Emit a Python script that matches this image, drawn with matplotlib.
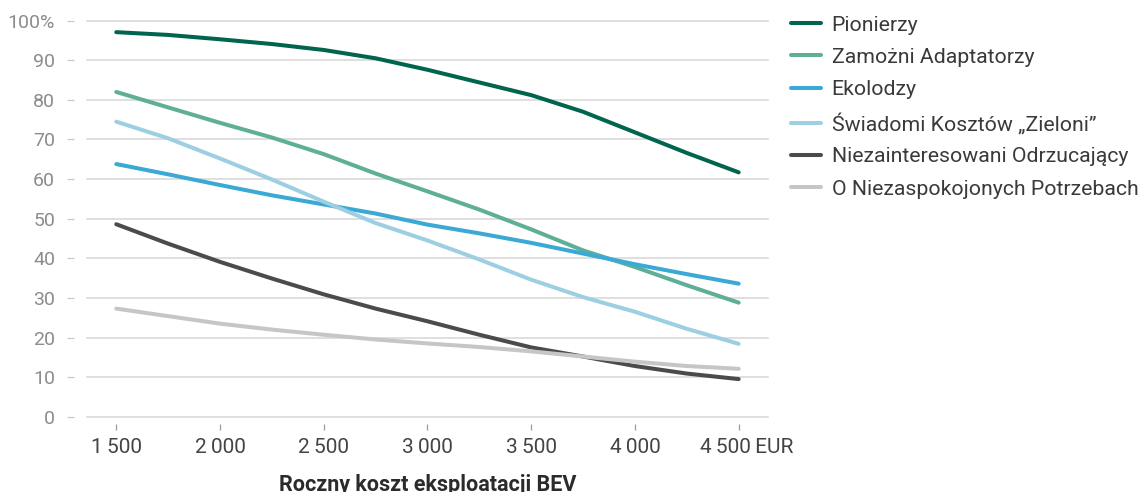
import matplotlib
matplotlib.use('Agg')
import matplotlib.pyplot as plt
from matplotlib.ticker import FixedLocator
from matplotlib.transforms import ScaledTranslation

plt.rcParams['font.family'] = ['Roboto', 'DejaVu Sans']

# roczny koszt eksploatacji BEV (EUR)
koszt = [1500, 1750, 2000, 2250, 2500, 2750, 3000, 3250, 3500, 3750, 4000, 4250, 4500]

pionierzy = [97.1, 96.4, 95.3, 94.1, 92.6, 90.5, 87.6, 84.4, 81.2, 77.0, 71.8, 66.6, 61.7]
zamozni = [82.0, 78.1, 74.2, 70.5, 66.3, 61.4, 56.9, 52.3, 47.3, 42.0, 37.8, 33.2, 28.8]
ekolodzy = [63.8, 61.2, 58.5, 55.9, 53.6, 51.3, 48.5, 46.3, 43.9, 41.2, 38.5, 36.0, 33.6]
swiadomi = [74.5, 70.3, 65.2, 59.9, 54.3, 48.9, 44.5, 39.7, 34.6, 30.2, 26.5, 22.2, 18.4]
niezainteresowani = [48.6, 43.7, 39.1, 34.9, 30.9, 27.3, 24.1, 20.7, 17.5, 15.2, 12.8, 10.9, 9.5]
niezaspokojeni = [27.3, 25.4, 23.5, 22.0, 20.7, 19.5, 18.5, 17.6, 16.5, 15.2, 13.9, 12.8, 12.1]

serie = [
    ('Pionierzy', pionierzy, '#00644f'),
    ('Zamożni Adaptatorzy', zamozni, '#5fae97'),
    ('Ekolodzy', ekolodzy, '#3aa9d5'),
    ('Świadomi Kosztów „Zieloni”', swiadomi, '#9dcfe3'),
    ('Niezainteresowani Odrzucający', niezainteresowani, '#4b4b4b'),
    ('O Niezaspokojonych Potrzebach', niezaspokojeni, '#c6c6c6'),
]

xticks = [1500, 2000, 2500, 3000, 3500, 4000, 4500]
xlabels = ['1\u2009500', '2\u2009000', '2\u2009500', '3\u2009000', '3\u2009500', '4\u2009000', '4\u2009500\u2009EUR']
yticks = [0, 10, 20, 30, 40, 50, 60, 70, 80, 90, 100]
ylabels = ['0', '10', '20', '30', '40', '50', '60', '70', '80', '90', '100%']

fig = plt.figure(figsize=(11.39, 4.92), dpi=100)
ax = fig.add_axes([0.0764, 0.153, 0.598, 0.805])

for nazwa, wart, kolor in serie:
    ax.plot(koszt, wart, color=kolor, lw=2.9, solid_capstyle='round',
            solid_joinstyle='round', label=nazwa)

ax.set_xlim(1359, 4642)
ax.set_ylim(0, 100)

for s in ax.spines.values():
    s.set_visible(False)
ax.spines['left'].set_position(('outward', 9.4))
ax.spines['bottom'].set_position(('outward', 5))

ax.yaxis.set_major_locator(FixedLocator(yticks))
ax.set_yticklabels(ylabels)
ax.xaxis.set_major_locator(FixedLocator(xticks))
ax.set_xticklabels(xlabels)

ax.tick_params(axis='y', length=5, width=0.9, color='#c8c8c8', pad=8.6,
               labelsize=14, labelcolor='#8c8c8c')
ax.tick_params(axis='x', length=4.3, width=0.9, color='#9a9a9a', pad=6,
               labelsize=15, labelcolor='#444444')

# etykieta z walutą przesunięta w prawo od ostatniego ticka
ostatnia = ax.get_xticklabels()[-1]
ostatnia.set_transform(ostatnia.get_transform() + ScaledTranslation(0.08, 0, fig.dpi_scale_trans))

ax.grid(axis='y', color='#d6d6d6', lw=1.1)
ax.set_axisbelow(True)
for g in ax.get_ygridlines():
    g.set_clip_on(False)

ax.set_xlabel('Roczny koszt eksploatacji BEV', fontsize=15.5, fontweight='bold',
              color='#2b2b2b', labelpad=12)

leg = ax.legend(loc='upper left', bbox_to_anchor=(0.6944, 0.968),
                bbox_transform=fig.transFigure, frameon=False, fontsize=15.3,
                handlelength=1.4, handletextpad=0.52, labelspacing=0.62,
                borderaxespad=0, borderpad=0)
for t in leg.get_texts():
    t.set_color('#3a3a3a')

fig.savefig('out.png', dpi=100)
